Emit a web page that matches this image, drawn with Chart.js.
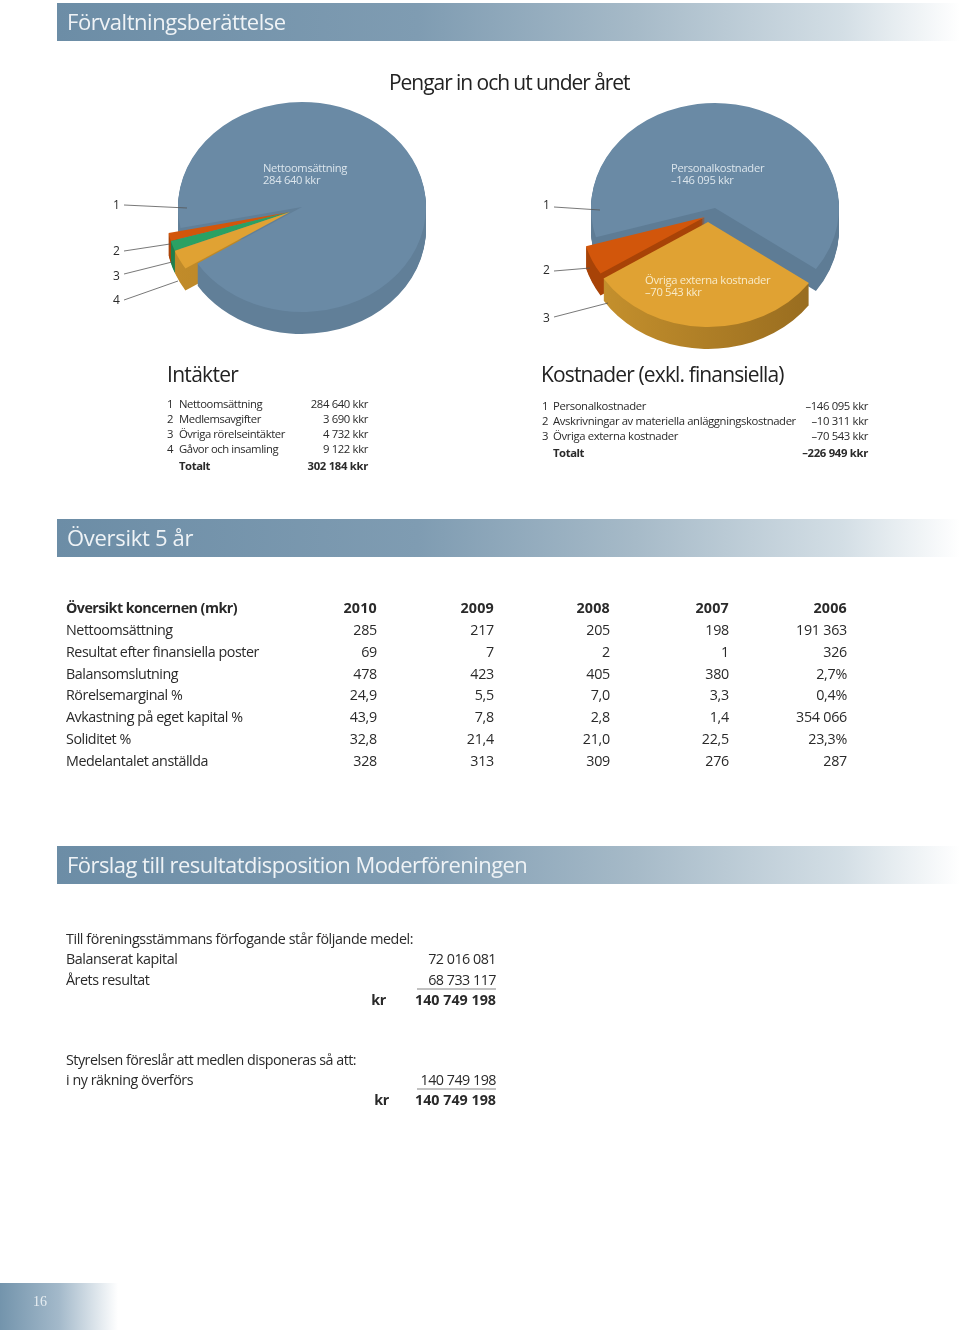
<!DOCTYPE html>
<html lang="sv"><head><meta charset="utf-8">
<script src="https://cdn.jsdelivr.net/npm/chart.js@4"></script>
<style>
html,body{margin:0;padding:0;background:#fff}
#page{position:relative;width:960px;height:1330px;overflow:hidden;font-family:"Open Sans",sans-serif;color:#2a2a2a}
.t{position:absolute;white-space:pre;transform:translateY(-50%);line-height:1}
.bar{position:absolute;left:57px;width:903px;height:38px;background:linear-gradient(90deg,#6c8da6 0%,#7f9cb2 40%,#a6bac8 64%,#d3dee5 87%,#ffffff 100%)}
canvas{position:absolute}
svg{position:absolute;left:0;top:0}
</style></head><body><div id="page"></div>
<script>
// ---- data ----
const incomeLabels = ["Nettoomsättning","Medlemsavgifter","Övriga rörelseintäkter","Gåvor och insamling"];
const incomeValues = [284640,3690,4732,9122];
const incomeTotal = 302184;
const costLabels = ["Personalkostnader","Avskrivningar av materiella anläggningskostnader","Övriga externa kostnader"];
const costValues = [146095,10311,70543];
const costTotal = 226949;
const years = ["2010","2009","2008","2007","2006"];
const overviewLabels = ["Nettoomsättning","Resultat efter finansiella poster","Balansomslutning","Rörelsemarginal %","Avkastning på eget kapital %","Soliditet %","Medelantalet anställda"];
const overviewCols = [
 ["285","69","478","24,9","43,9","32,8","328"],
 ["217","7","423","5,5","7,8","21,4","313"],
 ["205","2","405","7,0","2,8","21,0","309"],
 ["198","1","380","3,3","1,4","22,5","276"],
 ["191 363","326","2,7%","0,4%","354 066","23,3%","287"]
];

const page = document.getElementById('page');
const fmt = v => String(v).replace(/\B(?=(\d{3})+$)/g,' ');
function T(x,y,text,o={}){
  const d=document.createElement('div');d.className='t';d.textContent=text;
  d.style.top=y+'px';
  if(o.right) d.style.right=(960-x)+'px'; else d.style.left=x+'px';
  d.style.fontSize=(o.size||12)+'px';
  if(o.color) d.style.color=o.color;
  if(o.bold) d.style.fontWeight='700';
  if(o.font) d.style.fontFamily=o.font;
  if(o.lh) d.style.lineHeight=o.lh+'px';
  d.style.letterSpacing=(o.ls===undefined?-0.3:o.ls)+'px';
  d.style.zIndex=5;
  page.appendChild(d);return d;
}
function bar(y,text,ls){
  const b=document.createElement('div');b.className='bar';b.style.top=y+'px';page.appendChild(b);
  T(67,y+17.5,text,{size:22,color:'#eff3f6',ls});
}
// ---- pseudo-3D pie plugin: walls and tops come from the library's arc elements ----
const squash = 105/124, depth = 22;
const pie3d = {
  id:'pie3d',
  beforeDatasetsDraw(chart,args,opts){
    const ctx=chart.ctx, arcs=chart.getDatasetMeta(0).data, ds=chart.data.datasets[0];
    const cx=arcs[0].x, cy=arcs[0].y;
    ctx.save();
    for(const [i,kind] of opts.sequence){
      const a=arcs[i], [sx,sy]=ds.shift[i];
      if(kind==='wall'){
        const g=ctx.createLinearGradient(cx-124,0,cx+124,0);
        g.addColorStop(0,ds.wallFrom[i]);g.addColorStop(1,ds.wallTo[i]);
        ctx.fillStyle=g;
        for(let k=depth;k>=1;k--){
          ctx.save();
          ctx.translate(cx+sx,cy+sy+k);ctx.scale(1,squash);ctx.translate(-cx,-cy);
          ctx.beginPath();ctx.moveTo(a.x,a.y);
          ctx.arc(a.x,a.y,a.outerRadius,a.startAngle,a.endAngle);
          ctx.closePath();ctx.fill();
          ctx.restore();
        }
      }else{
        ctx.save();
        ctx.translate(cx+sx,cy+sy);ctx.scale(1,squash);ctx.translate(-cx,-cy);
        a.draw(ctx);
        ctx.restore();
      }
    }
    ctx.restore();
    return false;
  }
};
function pie(cx,cy,labels,values,colors,wallFrom,wallTo,shift,rotation,sequence){
  const c=document.createElement('canvas');c.width=320;c.height=320;
  c.style.left=(cx-160)+'px';c.style.top=(cy-160)+'px';c.style.width='320px';c.style.height='320px';
  page.appendChild(c);
  new Chart(c,{type:'pie',plugins:[pie3d],
    data:{labels,datasets:[{data:values,backgroundColor:colors,borderWidth:0,shift,wallFrom,wallTo}]},
    options:{responsive:false,animation:false,radius:124,rotation,
      layout:{padding:0},events:[],
      plugins:{legend:{display:false},tooltip:{enabled:false},pie3d:{sequence}}}});
}
const blue='#6a8aa5',orange='#d2560b',green='#2aa163',yellow='#e0a233';
// income pie, clockwise from the yellow slice
const incomeOrder=[3,2,1,0];
pie(302,207,incomeOrder.map(i=>incomeLabels[i]),incomeOrder.map(i=>incomeValues[i]),
  [yellow,green,orange,blue],['#c28c2a','#1f7f4c','#ab4408','#617f98'],['#a87a22','#1f7f4c','#ab4408','#617f98'],
  [[-12,5],[-12,5],[-12,5],[0,0]],237.5,
  [[2,'wall'],[1,'wall'],[0,'wall'],[3,'wall'],[3,'top'],[2,'top'],[1,'top'],[0,'top']]);
// cost pie, clockwise from the yellow slice
const costOrder=[2,1,0];
pie(715,208,costOrder.map(i=>costLabels[i]),costOrder.map(i=>costValues[i]),
  [yellow,orange,blue],['#c8932e','#a84307','#5e7c95'],['#94691e','#a84307','#5e7c95'],
  [[-7,14],[-10,9],[0,0]],125.5,
  [[2,'wall'],[2,'top'],[1,'wall'],[1,'top'],[0,'wall'],[0,'top']]);

// leader lines
const ns='http://www.w3.org/2000/svg';
const svg=document.createElementNS(ns,'svg');svg.setAttribute('width',960);svg.setAttribute('height',1330);svg.style.zIndex=4;
[[124,205,187,208],[124,251,170,244],[124,274,172,262],[124,300,178,281],
 [554,207,600,210],[554,271,590,268],[554,317,608,303]].forEach(l=>{
  const e=document.createElementNS(ns,'line');
  e.setAttribute('x1',l[0]);e.setAttribute('y1',l[1]);e.setAttribute('x2',l[2]);e.setAttribute('y2',l[3]);
  e.setAttribute('stroke','#555');e.setAttribute('stroke-width','0.8');svg.appendChild(e);
});
[[417,989,496,989],[417,1089,496,1089]].forEach(l=>{
  const e=document.createElementNS(ns,'line');
  e.setAttribute('x1',l[0]);e.setAttribute('y1',l[1]);e.setAttribute('x2',l[2]);e.setAttribute('y2',l[3]);
  e.setAttribute('stroke','#666');e.setAttribute('stroke-width','0.8');svg.appendChild(e);
});
page.appendChild(svg);
[["1",113,205],["2",113,251],["3",113,276],["4",113,300],["1",543,205],["2",543,270],["3",543,318]]
 .forEach(n=>T(n[1],n[2],n[0],{size:12}));

// pie captions
const cap='#dbe5ec', cap2='#f8ebc9', cs=11.2;
T(263,174,incomeLabels[0]+'\n'+fmt(incomeValues[0])+' kkr',{size:cs,color:cap,lh:12});
T(671,174,costLabels[0]+'\n–'+fmt(costValues[0])+' kkr',{size:cs,color:cap,lh:12});
T(645,286,costLabels[2]+'\n–'+fmt(costValues[2])+' kkr',{size:cs,color:cap2,lh:12});

// headers
bar(3,'Förvaltningsberättelse',-0.45);
bar(519,'Översikt 5 år',-0.3);
bar(846,'Förslag till resultatdisposition Moderföreningen',-0.55);
T(389,82,'Pengar in och ut under året',{size:21,color:'#222',ls:-1.05});

// income table
const ss=11.3, sl=-0.42;
T(167,374,'Intäkter',{size:21,color:'#222',ls:-0.7});
incomeLabels.forEach((l,i)=>{const y=404+i*15;
  T(167,y,String(i+1),{size:ss});T(179,y,l,{size:ss,ls:sl});
  T(368,y,fmt(incomeValues[i])+' kkr',{size:ss,right:true,ls:-0.35});});
T(179,466,'Totalt',{size:ss,bold:true,ls:sl});T(368,466,fmt(incomeTotal)+' kkr',{size:ss,bold:true,right:true,ls:-0.3});
// cost table
T(541,374,'Kostnader (exkl. finansiella)',{size:21,color:'#222',ls:-0.87});
costLabels.forEach((l,i)=>{const y=406+i*15;
  T(542,y,String(i+1),{size:ss});T(553,y,l,{size:ss,ls:-0.37});
  T(868,y,'–'+fmt(costValues[i])+' kkr',{size:ss,right:true,ls:-0.35});});
T(553,453,'Totalt',{size:ss,bold:true,ls:sl});T(868,453,'–'+fmt(costTotal)+' kkr',{size:ss,bold:true,right:true,ls:-0.3});

// overview table
const colRight=[377,494,610,729,847];
const rowY=[630,652,674,695,717,739,761];
const ms=14.3, ml=-0.45;
T(66,608,'Översikt koncernen (mkr)',{size:ms,bold:true,ls:-0.55});
years.forEach((y,c)=>T(colRight[c],608,y,{size:ms,bold:true,right:true,ls:0.2}));
overviewLabels.forEach((l,r)=>{
  T(66,rowY[r],l,{size:ms,ls:ml});
  overviewCols.forEach((col,c)=>T(colRight[c],rowY[r],col[r],{size:ms,right:true,ls:-0.25}));
});

// disposition
T(66,939,'Till föreningsstämmans förfogande står följande medel:',{size:ms,ls:-0.41});
T(66,959,'Balanserat kapital',{size:ms,ls:ml});T(496,959,'72 016 081',{size:ms,right:true,ls:-0.5});
T(66,980,'Årets resultat',{size:ms,ls:ml});T(496,980,'68 733 117',{size:ms,right:true,ls:-0.5});
T(386,1000,'kr',{size:ms,bold:true,right:true});T(496,1000,'140 749 198',{size:ms,bold:true,right:true,ls:0});
T(66,1060,'Styrelsen föreslår att medlen disponeras så att:',{size:ms,ls:-0.5});
T(66,1080,'i ny räkning överförs',{size:ms,ls:ml});T(496,1080,'140 749 198',{size:ms,right:true,ls:-0.5});
T(389,1100,'kr',{size:ms,bold:true,right:true});T(496,1100,'140 749 198',{size:ms,bold:true,right:true,ls:0});

// page tab
const tab=document.createElement('div');
tab.style.cssText='position:absolute;left:0;top:1283px;width:118px;height:47px;background:linear-gradient(90deg,#7394ac 0%,#a3b9ca 50%,#ffffff 100%)';
page.appendChild(tab);
T(33,1302,'16',{size:14,color:'#e8eef2',font:'"Liberation Serif",serif',ls:0});
</script></body></html>
